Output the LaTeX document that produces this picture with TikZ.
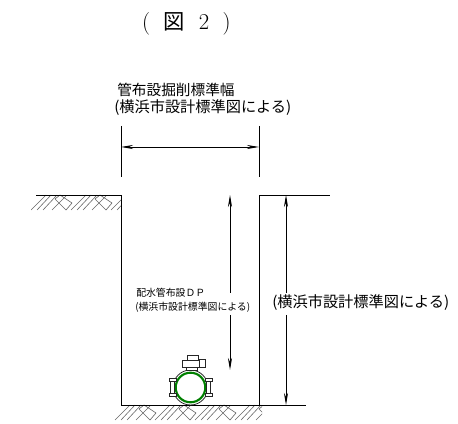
\documentclass[tikz,border=0pt]{standalone}
\usepackage{fontspec}
\newfontfamily\cjk{Noto Sans CJK JP}
\usetikzlibrary{arrows.meta}
\tikzset{
  wall/.style={draw=black,line width=0.7pt},
  extline/.style={draw=black,line width=0.6pt},
  dimline/.style={draw=black,line width=0.6pt,{Stealth[length=9pt,width=3pt]}-{Stealth[length=9pt,width=3pt]}},
  dimup/.style={draw=black,line width=0.6pt,{Stealth[length=9pt,width=3pt]}-},
  dimdown/.style={draw=black,line width=0.6pt,-{Stealth[length=9pt,width=3pt]}},
  hatchline/.style={draw=black!60,line width=0.45pt},
  label/.style={inner sep=0pt,font=\cjk\fontsize{11.4}{13}\selectfont},
  headlabel/.style={inner sep=0pt,font=\cjk\fontsize{11}{13}\selectfont},
  smalllabel/.style={inner sep=0pt,font=\cjk\fontsize{7.4}{9}\selectfont},
  pipepart/.style={draw=black!85,line width=0.6pt,fill=white}
}
\newcommand{\hatchtile}[2]{%
  \begin{scope}[shift={(#1,#2)}]
    \draw[hatchline] (0,15)--(15,0) (6,15)--(20,0) (12,15)--(26,0);
    \draw[hatchline] (21,15)--(35,1) (24,4)--(35,15)--(41,8)--(29,0)--(24,4);
  \end{scope}}
\begin{document}
\begin{tikzpicture}[x=0.75pt,y=-0.75pt]
\useasboundingbox (0,0) rectangle (458,424);
% hatching
\begin{scope}
  \clip (31,195) rectangle (121,211);
  \hatchtile{31}{195}\hatchtile{71}{195}\hatchtile{111}{195}
\end{scope}
\begin{scope}
  \clip (113,405) rectangle (262,421);
  \hatchtile{115}{405}\hatchtile{155}{405}\hatchtile{195}{405}\hatchtile{235}{405}
\end{scope}
% trench
\coordinate (gl) at (36,195);
\coordinate (tl) at (121,195);
\coordinate (bl) at (121,405);
\coordinate (br) at (259,405);
\coordinate (tr) at (259,195);
\coordinate (gr) at (330,195);
\coordinate (be) at (306,405);
\draw[wall] (gl)--(tl)--(bl)--(be);
\draw[wall] (br)--(tr)--(gr);
% width dimension
\coordinate (e1a) at (121,126);\coordinate (e1b) at (121,177);
\coordinate (e2a) at (259,126);\coordinate (e2b) at (259,177);
\draw[extline] (e1a)--(e1b);
\draw[extline] (e2a)--(e2b);
\coordinate (wl) at (121,147);\coordinate (wr) at (259,147);
\draw[dimline] (wl)--(wr);
% labels
\node[inner sep=0pt,font=\fontsize{17}{19}\selectfont] (title) at (186.5,24) {(\hspace{0.6em}{\cjk\fontsize{16}{18}\selectfont 図}\hspace{0.6em}2\hspace{0.6em})};
\node[headlabel,anchor=west] (lab1) at (117,90) {管布設掘削標準幅};
\node[label,anchor=west] (lab2) at (114,108) {(横浜市設計標準図による)};
\node[label,anchor=west] (lab3) at (272,303) {(横浜市設計標準図による)};
\node[smalllabel,anchor=west] (lab4) at (136,293) {配水管布設ＤＰ};
\node[smalllabel,anchor=west] (lab5) at (135,307) {(横浜市設計標準図による)};
% inner vertical dimension
\coordinate (a1) at (230,195);\coordinate (a2) at (230,293);
\coordinate (a3) at (230,315);\coordinate (a4) at (230,370);
\draw[dimup] (a1)--(a2);
\draw[dimdown] (a3)--(a4);
% outer vertical dimension
\coordinate (b1) at (286,195);\coordinate (b2) at (286,293);
\coordinate (b3) at (286,315);\coordinate (b4) at (286,405);
\draw[dimup] (b1)--(b2);
\draw[dimdown] (b3)--(b4);
% pipe
\coordinate (pc) at (190.5,387.5);
\draw[pipepart] (pc) circle[radius=17.5];
\draw[draw=green!50!black,line width=1.6pt,fill=white] (pc) circle[radius=14.8];
% left and right flanges
\draw[pipepart] (169,378) rectangle (176,381);
\draw[pipepart] (169,393) rectangle (176,396);
\draw[pipepart] (170.5,381) rectangle (174.5,393);
\draw[pipepart] (205,378) rectangle (212,381);
\draw[pipepart] (205,393) rectangle (212,396);
\draw[pipepart] (206.5,381) rectangle (210.5,393);
% top valve
\draw[pipepart] (186,370) rectangle (197,367);
\draw[pipepart] (187,355) rectangle (198,360);
\draw[pipepart] (182,360) rectangle (199,367);
\draw[pipepart] (199,359) rectangle (205,367);
\end{tikzpicture}
\end{document}
